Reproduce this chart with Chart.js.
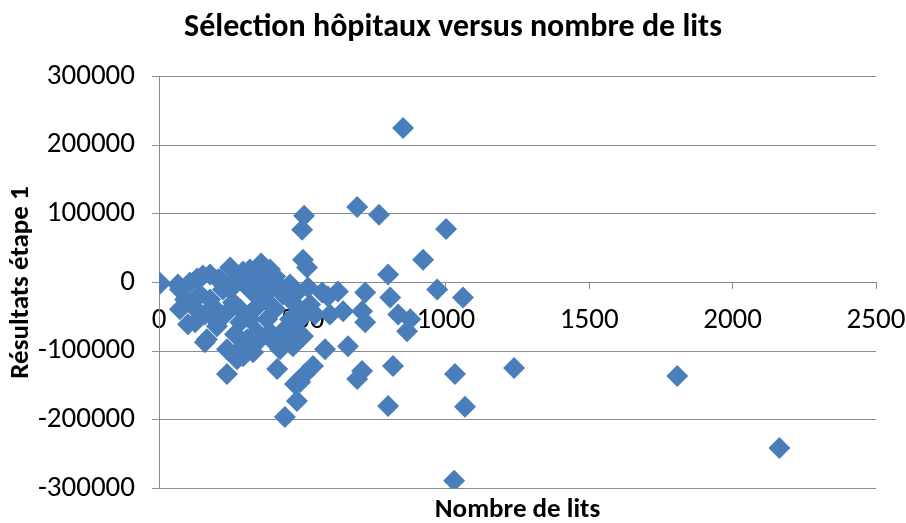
<!DOCTYPE html>
<html>
<head>
<meta charset="utf-8">
<script src="https://cdn.jsdelivr.net/npm/chart.js@4/dist/chart.umd.min.js"></script>
<style>
html,body{margin:0;padding:0;background:#fff;}
#wrap{width:906px;height:523px;}
</style>
</head>
<body>
<div id="wrap"><canvas id="c" width="906" height="523"></canvas></div>
<script>
// Data (number of beds vs. step-1 result)
const chartTitle = "Sélection hôpitaux versus nombre de lits";
const xTitle = "Nombre de lits";
const yTitle = "Résultats étape 1";
const xTicks = [0, 500, 1000, 1500, 2000, 2500];
const yTicks = [-300000, -200000, -100000, 0, 100000, 200000, 300000];

const lits = [
  851, 691, 767, 506, 499, 1001, 502, 516, 921, 799,
  970, 1060, 806, 719, 624, 569, 520, 422, 432, 596,
  642, 708, 719, 834, 876, 865, 478, 579, 659, 708,
  691, 816, 1032, 1238, 1807, 2163, 1067, 799, 1029, 439,
  481, 474, 509, 537, 492, 412, 237, 432, 457, 398,
  380, 307, 387, 293, 272, 167,
  5, 66, 73, 108, 133, 153, 178, 248, 206, 293,
  356, 317, 387, 405, 446, 481, 119, 126, 160, 188,
  202, 223, 213, 237, 258, 283, 293, 317, 328, 342,
  342, 352, 377, 422, 467, 502, 91, 143, 178, 248,
  283, 317, 352, 405, 370, 265, 195, 230, 160, 457,
  439, 492, 527, 544, 73, 101, 265, 300, 335, 387,
  457, 474, 589, 516
];
const resultats = [
  225000, 110000, 98500, 97000, 76800, 78000, 33000, 21700, 33000, 11600,
  -10100, -21700, -21700, -14500, -13000, -14500, -7200, -5800, -17400, -46400,
  -42000, -42000, -58000, -46400, -53600, -71000, -72500, -97100, -92700, -129000,
  -140500, -121700, -133300, -124600, -136200, -241000, -181000, -179700, -288400, -195600,
  -172400, -147800, -133300, -121700, -144900, -126000, -133300, -82600, -68000, -85500,
  -75300, -82600, -72500, -92700, -111600, -82600,
  -1000, -2900, -10100, 0, 5800, 10100, 11600, 21700, 4300, 15900,
  27500, 18800, 18800, 8700, -20300, -34800, -34800, -58000, -87000, -34800,
  -63800, -10100, 4300, -97100, -29000, -58000, -107200, -10100, -101400, -34800,
  -72500, 4300, -53600, -97100, -92700, -78200, -24600, -17400, -24600, -10100,
  -39100, -53600, -82600, -39100, -24600, -75300, -53600, -46400, -46400, -53600,
  -68100, -53600, -31900, -46400, -39100, -60900, 4300, -2900, -17400, -10100,
  -2900, -17400, -20300, -39100
];

const points = lits.map((x, i) => ({x: x, y: resultats[i]}));
const FONT = "Carlito, 'Liberation Sans', 'DejaVu Sans', sans-serif";
const GRID = '#8c8c8c';

new Chart(document.getElementById('c'), {
  type: 'scatter',
  data: {
    datasets: [{
      label: yTitle,
      data: points,
      pointStyle: 'rectRot',
      pointRadius: 11,
      pointHoverRadius: 11,
      backgroundColor: '#4a7ebb',
      borderColor: '#4a7ebb',
      borderWidth: 0
    }]
  },
  options: {
    responsive: false,
    animation: false,
    layout: {padding: {left: 0, right: 0, top: 0, bottom: 0}},
    plugins: {
      legend: {display: false},
      tooltip: {enabled: false},
      title: {
        display: true,
        text: chartTitle,
        color: '#000',
        font: {family: FONT, size: 32, weight: 'bold', lineHeight: 1.2},
        padding: {top: 9, bottom: 29}
      },
      subtitle: {
        display: true,
        position: 'bottom',
        fullSize: false,
        text: xTitle,
        color: '#000',
        font: {family: FONT, size: 27, weight: 'bold', lineHeight: 0.8},
        padding: {top: 11, bottom: 0}
      }
    },
    scales: {
      x: {
        type: 'linear',
        position: {y: 0},
        min: xTicks[0],
        max: xTicks[xTicks.length - 1],
        afterBuildTicks: s => { s.ticks = xTicks.map(v => ({value: v})); },
        afterFit: s => { s.paddingRight = 30; s.paddingLeft = 0; },
        grid: {display: true, drawOnChartArea: false, color: GRID, tickLength: 6},
        border: {display: true, color: GRID, width: 1},
        ticks: {color: '#000', font: {family: FONT, size: 29}, padding: 15, maxRotation: 0,
                callback: v => String(v)}
      },
      y: {
        type: 'linear',
        min: yTicks[0],
        max: yTicks[yTicks.length - 1],
        afterBuildTicks: s => { s.ticks = yTicks.map(v => ({value: v})); },
        afterFit: s => { s.width = 159; },
        grid: {color: GRID, tickLength: 7, lineWidth: 1},
        border: {display: true, color: GRID, width: 1},
        ticks: {color: '#000', font: {family: FONT, size: 29}, padding: 17,
                callback: v => String(v)},
        title: {display: true, text: yTitle, color: '#000',
                font: {family: FONT, size: 27, weight: 'bold', lineHeight: 1.2}, padding: {top: 5, bottom: 0}}
      }
    }
  }
});
</script>
</body>
</html>
